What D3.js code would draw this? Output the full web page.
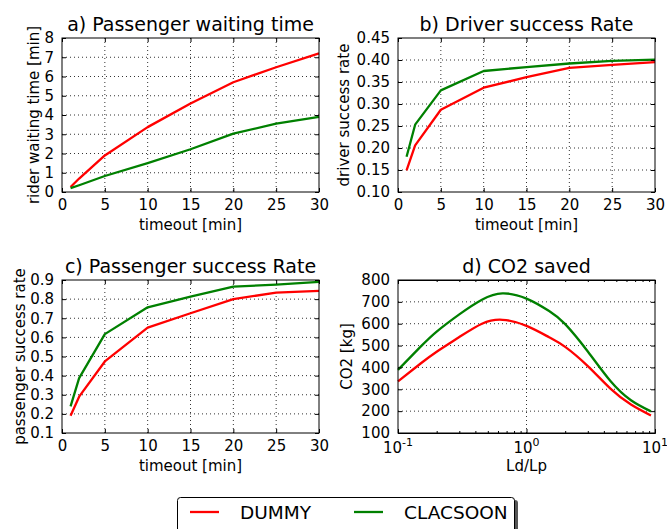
<!DOCTYPE html>
<html><head><meta charset="utf-8">
<script src="https://cdn.jsdelivr.net/npm/d3@7"></script>
<style>
html,body{margin:0;padding:0;background:#fff;}
svg{display:block;font-family:"DejaVu Sans",sans-serif;}
</style></head>
<body>
<svg id="chart" width="667" height="529"></svg>
<script>
// ---- data ----
const timeout = [1, 2, 5, 10, 15, 20, 25, 30];
const waitDummy = [0.26, 0.7, 1.9, 3.37, 4.6, 5.7, 6.48, 7.2];
const waitClacsoon = [0.2, 0.35, 0.83, 1.5, 2.22, 3.03, 3.55, 3.9];
const driverDummy = [0.149, 0.206, 0.287, 0.337, 0.361, 0.382, 0.389, 0.395];
const driverClacsoon = [0.18, 0.253, 0.331, 0.375, 0.384, 0.392, 0.398, 0.401];
const passDummy = [0.19, 0.29, 0.474, 0.651, 0.726, 0.80, 0.834, 0.843];
const passClacsoon = [0.239, 0.387, 0.617, 0.757, 0.813, 0.865, 0.876, 0.89];
const ratio = [0.1, 0.15, 0.2, 0.3, 0.45, 0.65, 1, 1.5, 2, 3, 4.5, 6.5, 9.3];
const co2Dummy = [336, 418, 472, 539, 600, 618, 590, 538, 494, 406, 303, 230, 180];
const co2Clacsoon = [389, 495, 564, 643, 710, 739, 715, 658, 598, 473, 338, 250, 199];
const seriesNames = ["DUMMY", "CLACSOON"];
const seriesColors = ["#ff0000", "#008000"];
const xTicksLin = [0, 5, 10, 15, 20, 25, 30];
const yTicksA = [0, 1, 2, 3, 4, 5, 6, 7, 8];
const yTicksB = [0.10, 0.15, 0.20, 0.25, 0.30, 0.35, 0.40, 0.45];
const yTicksC = [0.1, 0.2, 0.3, 0.4, 0.5, 0.6, 0.7, 0.8, 0.9];
const yTicksD = [100, 200, 300, 400, 500, 600, 700, 800];
const xTicksLog = [0.1, 1, 10];

const svg = d3.select("#chart");

const panels = [
  {title:"a) Passenger waiting time", xl:"timeout [min]", yl:"rider waiting time [min]",
   box:[62,319,38,192], xd:[0,30], yd:[0,8], xs:timeout, ys:[waitDummy, waitClacsoon],
   xt:xTicksLin, yt:yTicksA, yf:d=>d3.format("d")(d), ylx:39, curve:d3.curveLinear},
  {title:"b) Driver success Rate", xl:"timeout [min]", yl:"driver success rate",
   box:[398,655,38,192], xd:[0,30], yd:[0.10,0.45], xs:timeout, ys:[driverDummy, driverClacsoon],
   xt:xTicksLin, yt:yTicksB, yf:d3.format(".2f"), ylx:349, curve:d3.curveLinear},
  {title:"c) Passenger success Rate", xl:"timeout [min]", yl:"passenger success rate",
   box:[62,319,280,433], xd:[0,30], yd:[0.1,0.9], xs:timeout, ys:[passDummy, passClacsoon],
   xt:xTicksLin, yt:yTicksC, yf:d3.format(".1f"), ylx:25, curve:d3.curveLinear},
  {title:"d) CO2 saved", xl:"Ld/Lp", yl:"CO2 [kg]", log:true,
   box:[398,655,280,433], xd:[0.1,10], yd:[100,800], xs:ratio, ys:[co2Dummy, co2Clacsoon],
   xt:xTicksLog, yt:yTicksD, yf:d3.format("d"), ylx:352, curve:d3.curveNatural}
];

panels.forEach(p => {
  const [x0,x1,y0,y1] = p.box;
  const x = (p.log ? d3.scaleLog() : d3.scaleLinear()).domain(p.xd).range([x0,x1]);
  const y = d3.scaleLinear().domain(p.yd).range([y1,y0]);
  const g = svg.append("g");

  // grid
  const gx = p.xt.filter(v => v > p.xd[0] && v < p.xd[1]);
  const gy = p.yt.filter(v => v > p.yd[0] && v < p.yd[1]);
  g.selectAll(".vg").data(gx).join("line")
    .attr("x1", d=>x(d)).attr("x2", d=>x(d)).attr("y1", y0).attr("y2", y1)
    .attr("stroke","#333").attr("stroke-width",1).attr("stroke-dasharray","1,3");
  g.selectAll(".hg").data(gy).join("line")
    .attr("x1", x0).attr("x2", x1).attr("y1", d=>y(d)).attr("y2", d=>y(d))
    .attr("stroke","#333").attr("stroke-width",1).attr("stroke-dasharray","1,3");

  // lines
  p.ys.forEach((vals, i) => {
    const line = d3.line().x((d,k)=>x(p.xs[k])).y(d=>y(d)).curve(p.curve);
    g.append("path").attr("d", line(vals)).attr("fill","none")
      .attr("stroke", seriesColors[i]).attr("stroke-width",2.3).attr("stroke-linejoin","round");
  });

  // axes (inward ticks)
  const axB = g.append("g").attr("transform",`translate(0,${y1})`)
    .call(d3.axisBottom(x).tickValues(p.xt).tickSize(-4).tickPadding(7)
      .tickFormat(p.log ? () => "" : d3.format("d")));
  const axT = g.append("g").attr("transform",`translate(0,${y0})`)
    .call(d3.axisTop(x).tickValues(p.xt).tickSize(-4).tickFormat(()=>""));
  const axL = g.append("g").attr("transform",`translate(${x0},0)`)
    .call(d3.axisLeft(y).tickValues(p.yt).tickSize(-4).tickPadding(8).tickFormat(p.yf));
  const axR = g.append("g").attr("transform",`translate(${x1},0)`)
    .call(d3.axisRight(y).tickValues(p.yt).tickSize(-4).tickFormat(()=>""));
  if (p.log) {
    const minor = [];
    [0.1, 1].forEach(dec => { for (let k=2;k<=9;k++) minor.push(dec*k); });
    g.append("g").attr("transform",`translate(0,${y1})`)
      .call(d3.axisBottom(x).tickValues(minor).tickSize(-2).tickFormat(()=>""));
    g.append("g").attr("transform",`translate(0,${y0})`)
      .call(d3.axisTop(x).tickValues(minor).tickSize(-2).tickFormat(()=>""));
    const lab = g.append("g");
    p.xt.forEach(v => {
      const t = lab.append("text").attr("x", x(v)).attr("y", y1+20)
        .attr("text-anchor","middle").attr("font-size",15).attr("fill","#000");
      t.append("tspan").text("10");
      t.append("tspan").attr("dy",-7).attr("font-size",11).text(String(Math.round(Math.log10(v))));
    });
  }
  [axB,axT,axL,axR].forEach(a => {
    a.select(".domain").remove();
    a.selectAll("line").attr("stroke","#000");
    a.selectAll("text").attr("font-size",15).attr("fill","#000")
      .attr("font-family","DejaVu Sans, sans-serif");
  });
  g.selectAll(".tick line").attr("stroke","#000");

  // frame
  g.append("rect").attr("x",x0).attr("y",y0).attr("width",x1-x0).attr("height",y1-y0)
    .attr("fill","none").attr("stroke","#000").attr("stroke-width",1);

  // title
  g.append("text").attr("x",(x0+x1)/2).attr("y",y0-7).attr("text-anchor","middle")
    .attr("font-size",19).attr("fill","#000").text(p.title);
  // x label
  g.append("text").attr("x",(x0+x1)/2).attr("y",y1+38).attr("text-anchor","middle")
    .attr("font-size",15).attr("fill","#000").text(p.xl);
  // y label
  g.append("text").attr("transform",`translate(${p.ylx},${(y0+y1)/2}) rotate(-90)`)
    .attr("text-anchor","middle").attr("font-size",15).attr("fill","#000").text(p.yl);
});

// legend
const lg = svg.append("g");
lg.append("rect").attr("x",180).attr("y",500).attr("width",338).attr("height",40)
  .attr("rx",3).attr("fill","#555");
lg.append("rect").attr("x",177.5).attr("y",497.5).attr("width",337).attr("height",40)
  .attr("rx",3).attr("fill","#fff").attr("stroke","#000").attr("stroke-width",1);
const legPos = [[190, 240], [354, 404]];
seriesNames.forEach((n,i) => {
  lg.append("line").attr("x1",legPos[i][0]).attr("x2",legPos[i][0]+29)
    .attr("y1",512).attr("y2",512).attr("stroke",seriesColors[i]).attr("stroke-width",2.3);
  lg.append("text").attr("x",legPos[i][1]).attr("y",519).attr("font-size",18.5)
    .attr("fill","#000").text(n);
});
</script>
</body></html>
